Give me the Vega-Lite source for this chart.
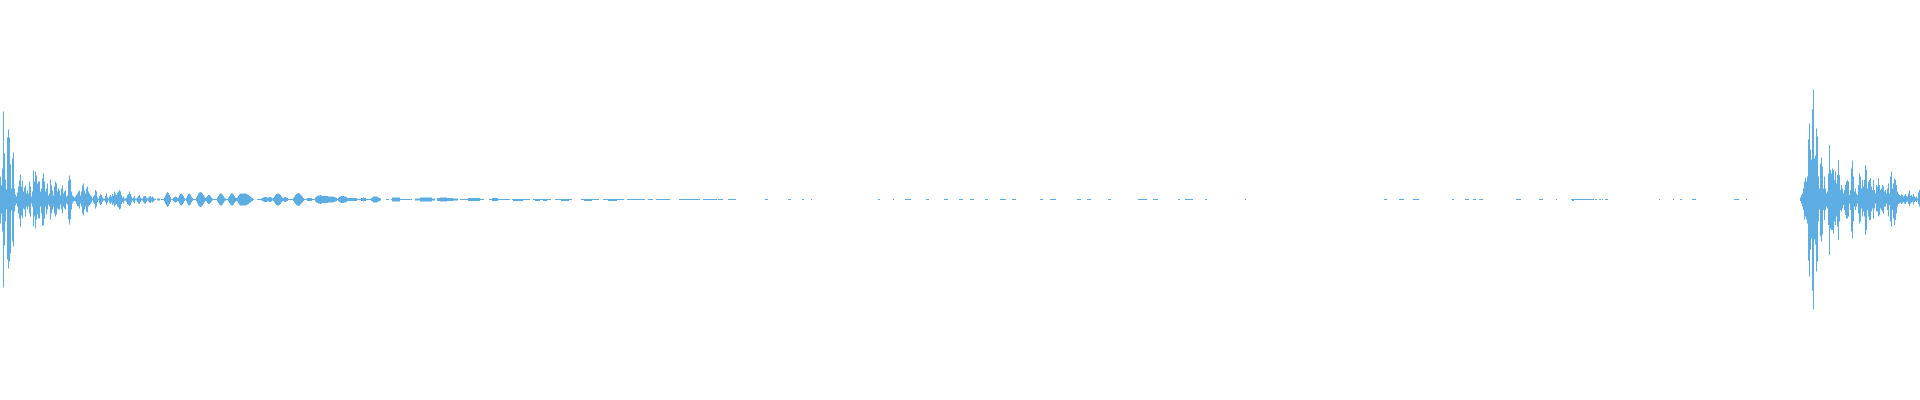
{
"$schema": "https://vega.github.io/schema/vega-lite/v6.json",
"width": 1920, "height": 400,
"autosize": {"type": "fit", "contains": "padding"},
"padding": 0,
"background": "white",
"config": {"view": {"stroke": null}},
"data": {"values": [
{"a":0,"b":1,"l":-24,"h":23},{"a":1,"b":2,"l":-14,"h":14},{"a":2,"b":3,"l":-32,"h":31},{"a":3,"b":4,"l":-88,"h":88},{"a":4,"b":5,"l":-46,"h":46},
{"a":5,"b":6,"l":-22,"h":20},{"a":6,"b":7,"l":-10,"h":10},{"a":7,"b":8,"l":-60,"h":62},{"a":8,"b":9,"l":-69,"h":70},{"a":9,"b":10,"l":-62,"h":62},
{"a":10,"b":11,"l":-54,"h":35},{"a":11,"b":12,"l":-11,"h":11},{"a":12,"b":13,"l":-42,"h":41},{"a":13,"b":14,"l":-47,"h":47},{"a":14,"b":15,"l":-12,"h":11},
{"a":15,"b":16,"l":-6,"h":5},{"a":16,"b":17,"l":-4,"h":3},{"a":17,"b":18,"l":-7,"h":7},{"a":18,"b":19,"l":-14,"h":13},{"a":19,"b":20,"l":-19,"h":19},
{"a":20,"b":21,"l":-27,"h":25},{"a":21,"b":22,"l":-16,"h":13},{"a":22,"b":23,"l":-19,"h":19},{"a":23,"b":24,"l":-9,"h":8},{"a":24,"b":25,"l":-10,"h":12},
{"a":25,"b":26,"l":-17,"h":14},{"a":26,"b":27,"l":-7,"h":6},{"a":27,"b":28,"l":-10,"h":9},{"a":28,"b":29,"l":-7,"h":6},{"a":29,"b":30,"l":-14,"h":18},
{"a":30,"b":31,"l":-17,"h":13},{"a":31,"b":32,"l":-4,"h":3},{"a":32,"b":33,"l":-7,"h":8},{"a":33,"b":34,"l":-27,"h":29},{"a":34,"b":35,"l":-17,"h":18},
{"a":35,"b":36,"l":-29,"h":28},{"a":36,"b":37,"l":-20,"h":24},{"a":37,"b":38,"l":-15,"h":16},{"a":38,"b":39,"l":-19,"h":18},{"a":39,"b":40,"l":-19,"h":18},
{"a":40,"b":41,"l":-7,"h":8},{"a":41,"b":42,"l":-14,"h":11},{"a":42,"b":43,"l":-26,"h":21},{"a":43,"b":44,"l":-26,"h":26},{"a":44,"b":45,"l":-19,"h":18},
{"a":45,"b":46,"l":-7,"h":8},{"a":46,"b":47,"l":-15,"h":11},{"a":47,"b":48,"l":-10,"h":16},{"a":48,"b":49,"l":-5,"h":4},{"a":49,"b":50,"l":-7,"h":6},
{"a":50,"b":51,"l":-20,"h":20},{"a":51,"b":52,"l":-14,"h":14},{"a":52,"b":53,"l":-10,"h":9},{"a":53,"b":54,"l":-7,"h":4},{"a":54,"b":55,"l":-14,"h":13},
{"a":55,"b":56,"l":-17,"h":18},{"a":56,"b":57,"l":-15,"h":16},{"a":57,"b":58,"l":-9,"h":8},{"a":58,"b":59,"l":-10,"h":11},{"a":59,"b":60,"l":-10,"h":9},
{"a":60,"b":61,"l":-5,"h":4},{"a":61,"b":62,"l":-10,"h":11},{"a":62,"b":63,"l":-14,"h":14},{"a":63,"b":64,"l":-7,"h":6},{"a":64,"b":65,"l":-9,"h":8},
{"a":65,"b":66,"l":-10,"h":9},{"a":66,"b":67,"l":-4,"h":3},{"a":67,"b":68,"l":-5,"h":4},{"a":68,"b":69,"l":-20,"h":19},{"a":69,"b":70,"l":-25,"h":24},
{"a":70,"b":71,"l":-20,"h":20},{"a":71,"b":72,"l":-10,"h":8},{"a":72,"b":73,"l":-4,"h":4},{"a":73,"b":74,"l":-2,"h":3},{"a":74,"b":75,"l":-1.5,"h":2},
{"a":75,"b":76,"l":-2,"h":3},{"a":76,"b":77,"l":-4.5,"h":4.5},{"a":77,"b":78,"l":-6.5,"h":6},{"a":78,"b":79,"l":-7,"h":8},{"a":79,"b":80,"l":-9,"h":9},
{"a":80,"b":81,"l":-4,"h":4},{"a":81,"b":82,"l":-7,"h":8},{"a":82,"b":83,"l":-14,"h":14},{"a":83,"b":84,"l":-16,"h":16},{"a":84,"b":85,"l":-10,"h":9},
{"a":85,"b":86,"l":-7,"h":6},{"a":86,"b":87,"l":-12,"h":11},{"a":87,"b":88,"l":-13,"h":13},{"a":88,"b":89,"l":-7,"h":8},{"a":89,"b":90,"l":-5.5,"h":6},
{"a":90,"b":91,"l":-4.5,"h":4.5},{"a":91,"b":92,"l":-3,"h":3},{"a":92,"b":93,"l":-1,"h":1},{"a":93,"b":94,"l":-3,"h":3},{"a":94,"b":95,"l":-4.5,"h":4.5},
{"a":95,"b":96,"l":-9,"h":9.5},{"a":96,"b":97,"l":-7,"h":8},{"a":97,"b":98,"l":-2.5,"h":2},{"a":98,"b":99,"l":-1,"h":1},{"a":99,"b":100,"l":-4,"h":3.5},
{"a":100,"b":101,"l":-5.5,"h":5.5},{"a":101,"b":102,"l":-4.5,"h":4.5},{"a":102,"b":103,"l":-2.5,"h":2},{"a":103,"b":104,"l":-1,"h":1},{"a":104,"b":105,"l":-1,"h":1},
{"a":105,"b":106,"l":-3,"h":3.5},{"a":106,"b":107,"l":-5.5,"h":6},{"a":107,"b":108,"l":-3,"h":2},{"a":108,"b":109,"l":-1,"h":1},{"a":109,"b":110,"l":-3,"h":3},
{"a":110,"b":111,"l":-4.5,"h":4.5},{"a":111,"b":112,"l":-3,"h":3},{"a":112,"b":113,"l":-5.5,"h":5.5},{"a":113,"b":114,"l":-4,"h":3.5},{"a":114,"b":115,"l":-7,"h":8},
{"a":115,"b":116,"l":-5.5,"h":6},{"a":116,"b":117,"l":-4.5,"h":4.5},{"a":117,"b":118,"l":-7,"h":7},{"a":118,"b":119,"l":-8,"h":8},{"a":119,"b":120,"l":-10,"h":9.5},
{"a":120,"b":121,"l":-9,"h":8},{"a":121,"b":122,"l":-4.5,"h":4.5},{"a":122,"b":123,"l":-2.5,"h":2},{"a":123,"b":124,"l":-4,"h":3},{"a":124,"b":125,"l":-1.5,"h":1},
{"a":125,"b":126,"l":-1,"h":1},{"a":126,"b":127,"l":-2.5,"h":2},{"a":127,"b":128,"l":-4.5,"h":4.5},{"a":128,"b":129,"l":-5.5,"h":5.5},{"a":129,"b":130,"l":-6.5,"h":8},
{"a":130,"b":131,"l":-5.5,"h":5.5},{"a":131,"b":132,"l":-3,"h":3},{"a":132,"b":133,"l":-1,"h":1},{"a":133,"b":134,"l":-2.5,"h":2},{"a":134,"b":135,"l":-4,"h":3.5},
{"a":135,"b":136,"l":-1,"h":1},{"a":136,"b":137,"l":-1,"h":1},{"a":137,"b":138,"l":-2.5,"h":2},{"a":138,"b":139,"l":-4,"h":3.5},{"a":139,"b":140,"l":-4.5,"h":4.5},
{"a":140,"b":141,"l":-2.5,"h":2},{"a":141,"b":142,"l":-1,"h":1},{"a":142,"b":143,"l":-1,"h":1},{"a":143,"b":144,"l":-3,"h":3},{"a":144,"b":145,"l":-4,"h":3.5},
{"a":145,"b":146,"l":-4,"h":3.5},{"a":146,"b":147,"l":-2.5,"h":2},{"a":147,"b":148,"l":-1,"h":1},{"a":148,"b":149,"l":-2,"h":2},{"a":149,"b":150,"l":-3,"h":3},
{"a":150,"b":151,"l":-3.5,"h":3.5},{"a":151,"b":152,"l":-2,"h":2},{"a":152,"b":153,"l":-3,"h":3},{"a":153,"b":154,"l":-2,"h":2},{"a":154,"b":155,"l":-1,"h":1},
{"a":155,"b":156,"l":-0.5,"h":0.5},{"a":157,"b":160,"l":-1,"h":1},
{"a":161,"b":164,"l":-0.5,"h":0.5},
{"a":164,"b":165,"l":-2,"h":2},{"a":165,"b":166,"l":-4,"h":4},{"a":166,"b":167,"l":-6,"h":6},{"a":167,"b":168,"l":-7.5,"h":7.5},{"a":168,"b":169,"l":-6.5,"h":6.5},{"a":169,"b":170,"l":-4.5,"h":4.5},{"a":170,"b":171,"l":-2.5,"h":2.5},
{"a":171,"b":173,"l":-0.5,"h":0.5},
{"a":173,"b":174,"l":-1.5,"h":1.5},{"a":174,"b":175,"l":-2.5,"h":2.5},{"a":175,"b":176,"l":-3,"h":3},{"a":176,"b":177,"l":-2.5,"h":2.5},{"a":177,"b":178,"l":-1.5,"h":1.5},
{"a":178,"b":179,"l":-2,"h":2},{"a":179,"b":180,"l":-4,"h":4},{"a":180,"b":181,"l":-5.5,"h":5.5},{"a":181,"b":182,"l":-6,"h":6},{"a":182,"b":183,"l":-5,"h":5},{"a":183,"b":184,"l":-3.5,"h":3.5},{"a":184,"b":185,"l":-1.5,"h":1.5},
{"a":185,"b":186,"l":-0.5,"h":0.5},
{"a":186,"b":187,"l":-2,"h":2},{"a":187,"b":188,"l":-4,"h":4},{"a":188,"b":189,"l":-5.5,"h":5.5},{"a":189,"b":190,"l":-6,"h":6},{"a":190,"b":191,"l":-5,"h":5},{"a":191,"b":192,"l":-3,"h":3},{"a":192,"b":193,"l":-1.5,"h":1.5},
{"a":193,"b":196,"l":-0.5,"h":0.5},
{"a":196,"b":197,"l":-2,"h":2},{"a":197,"b":198,"l":-4,"h":4},{"a":198,"b":199,"l":-6,"h":6},{"a":199,"b":200,"l":-7,"h":7},{"a":200,"b":201,"l":-7.5,"h":7.5},{"a":201,"b":202,"l":-7,"h":7},{"a":202,"b":203,"l":-6,"h":6},{"a":203,"b":204,"l":-4.5,"h":4.5},{"a":204,"b":205,"l":-3,"h":3},{"a":205,"b":206,"l":-1.5,"h":1.5},
{"a":206,"b":207,"l":-2,"h":2},{"a":207,"b":208,"l":-3.5,"h":3.5},{"a":208,"b":209,"l":-4.5,"h":4.5},{"a":209,"b":210,"l":-4.5,"h":4.5},{"a":210,"b":211,"l":-3.5,"h":3.5},{"a":211,"b":212,"l":-2,"h":2},{"a":212,"b":213,"l":-1,"h":1},
{"a":213,"b":217,"l":-0.5,"h":0.5},
{"a":217,"b":218,"l":-2,"h":2},{"a":218,"b":219,"l":-3.5,"h":3.5},{"a":219,"b":220,"l":-5,"h":5},{"a":220,"b":221,"l":-6,"h":6},{"a":221,"b":222,"l":-6,"h":6},{"a":222,"b":223,"l":-5,"h":5},{"a":223,"b":224,"l":-3.5,"h":3.5},{"a":224,"b":225,"l":-2,"h":2},{"a":225,"b":226,"l":-1,"h":1},
{"a":226,"b":228,"l":-0.5,"h":0.5},
{"a":228,"b":229,"l":-2,"h":2},{"a":229,"b":230,"l":-3.5,"h":3.5},{"a":230,"b":231,"l":-5,"h":5},{"a":231,"b":232,"l":-6,"h":6},{"a":232,"b":233,"l":-6,"h":6},{"a":233,"b":234,"l":-5,"h":5},{"a":234,"b":235,"l":-3.5,"h":3.5},{"a":235,"b":236,"l":-2,"h":2},{"a":236,"b":237,"l":-1.5,"h":1.5},
{"a":237,"b":238,"l":-2,"h":2},{"a":238,"b":239,"l":-4,"h":4},{"a":239,"b":240,"l":-5,"h":5},{"a":240,"b":246,"l":-6,"h":6},{"a":246,"b":247,"l":-5.5,"h":5.5},{"a":247,"b":248,"l":-5,"h":5},{"a":248,"b":249,"l":-4.5,"h":4.5},{"a":249,"b":250,"l":-3.5,"h":3.5},{"a":250,"b":251,"l":-3,"h":3},{"a":251,"b":252,"l":-2,"h":2},{"a":252,"b":253,"l":-1.5,"h":1.5},
{"a":253,"b":254,"l":-0.5,"h":0.5},{"a":257,"b":261,"l":-0.5,"h":0.5},
{"a":261,"b":262,"l":-1,"h":1},{"a":262,"b":263,"l":-1.5,"h":1.5},{"a":263,"b":264,"l":-2,"h":2},{"a":264,"b":267,"l":-2.5,"h":2.5},{"a":267,"b":269,"l":-2,"h":2},{"a":269,"b":271,"l":-2.5,"h":2.5},{"a":271,"b":272,"l":-2,"h":2},{"a":272,"b":273,"l":-1,"h":1},
{"a":273,"b":274,"l":-1.5,"h":1.5},{"a":274,"b":275,"l":-3,"h":3},{"a":275,"b":276,"l":-4.5,"h":4.5},{"a":276,"b":277,"l":-5.5,"h":5.5},{"a":277,"b":279,"l":-6,"h":6},{"a":279,"b":280,"l":-5.5,"h":5.5},{"a":280,"b":281,"l":-4.5,"h":4.5},{"a":281,"b":282,"l":-3,"h":3},{"a":282,"b":283,"l":-2,"h":2},
{"a":283,"b":284,"l":-1.5,"h":1.5},{"a":284,"b":286,"l":-2.5,"h":2.5},{"a":286,"b":287,"l":-2,"h":2},{"a":287,"b":288,"l":-1.5,"h":1.5},
{"a":288,"b":293,"l":-0.5,"h":0.5},
{"a":293,"b":294,"l":-1.5,"h":1.5},{"a":294,"b":295,"l":-3,"h":3},{"a":295,"b":296,"l":-4.5,"h":4.5},{"a":296,"b":297,"l":-5.5,"h":5.5},{"a":297,"b":298,"l":-6,"h":6},{"a":298,"b":299,"l":-6.5,"h":6.5},{"a":299,"b":300,"l":-6,"h":6},{"a":300,"b":301,"l":-5,"h":5},{"a":301,"b":302,"l":-4,"h":4},{"a":302,"b":303,"l":-3,"h":3},{"a":303,"b":304,"l":-1.5,"h":1.5},
{"a":304,"b":315,"l":-0.5,"h":0.5},{"a":307,"b":312,"l":-1.5,"h":1.5},
{"a":315,"b":316,"l":-2,"h":2},{"a":316,"b":317,"l":-3,"h":3},{"a":317,"b":318,"l":-3.5,"h":3.5},{"a":318,"b":320,"l":-4,"h":4},{"a":320,"b":321,"l":-4.5,"h":4.5},{"a":321,"b":322,"l":-4,"h":4},{"a":322,"b":328,"l":-3.5,"h":3.5},{"a":328,"b":333,"l":-3,"h":3},{"a":333,"b":335,"l":-2.5,"h":2.5},{"a":335,"b":336,"l":-2,"h":2},{"a":336,"b":337,"l":-1.5,"h":1.5},
{"a":337,"b":338,"l":-0.5,"h":0.5},
{"a":338,"b":339,"l":-1.5,"h":1.5},{"a":339,"b":340,"l":-2.5,"h":2.5},{"a":340,"b":341,"l":-3,"h":3},{"a":341,"b":344,"l":-3.5,"h":3.5},{"a":344,"b":346,"l":-3,"h":3},{"a":346,"b":347,"l":-2.5,"h":2.5},
{"a":347,"b":357,"l":-1.5,"h":1.5},{"a":357,"b":361,"l":-0.5,"h":0.5},{"a":361,"b":366,"l":-1.5,"h":1.5},{"a":363,"b":364,"l":-2,"h":2},{"a":366,"b":371,"l":-0.5,"h":0.5},
{"a":371,"b":372,"l":-1.5,"h":1.5},{"a":372,"b":373,"l":-2,"h":2},{"a":373,"b":377,"l":-3,"h":3},{"a":377,"b":378,"l":-2.5,"h":2.5},{"a":378,"b":379,"l":-2,"h":2},{"a":379,"b":380,"l":-1.5,"h":1.5},{"a":380,"b":381,"l":-1,"h":1},
{"a":386,"b":389,"l":-0.5,"h":0.5},{"a":391,"b":412,"l":-0.5,"h":0.5},{"a":392,"b":400,"l":-2,"h":2},
{"a":415,"b":420,"l":-1,"h":1},{"a":420,"b":432,"l":-2,"h":2},{"a":432,"b":435,"l":-1,"h":1},
{"a":437,"b":440,"l":-1.5,"h":1.5},{"a":440,"b":447,"l":-2,"h":2},{"a":447,"b":453,"l":-1.5,"h":1.5},{"a":453,"b":458,"l":-1,"h":1},
{"a":460,"b":468,"l":-0.5,"h":0.5},{"a":468,"b":480,"l":-1.5,"h":1.5},{"a":480,"b":484,"l":-0.5,"h":0.5},
{"a":489,"b":510,"l":-0.5,"h":0.5},{"a":492,"b":498,"l":-1.5,"h":1.5},
{"a":512,"b":530,"l":-0.5,"h":0.5},{"a":513,"b":523,"l":-1.5,"h":0.5},
{"a":533,"b":551,"l":-0.5,"h":0.5},{"a":535,"b":540,"l":-1.5,"h":0.5},{"a":543,"b":547,"l":-1.5,"h":0.5},
{"a":555,"b":572,"l":-0.5,"h":0.5},{"a":561,"b":569,"l":-1.5,"h":0.5},
{"a":581,"b":599,"l":-0.5,"h":0.5},{"a":584,"b":592,"l":-1.5,"h":0.5},
{"a":603,"b":624,"l":-0.5,"h":0.5},{"a":608,"b":617,"l":-1.5,"h":0.5},
{"a":627,"b":645,"l":-0.5,"h":0.5},{"a":648,"b":653,"l":-0.5,"h":0.5},{"a":656,"b":670,"l":-0.5,"h":0.5},{"a":679,"b":700,"l":-0.5,"h":0.5},
{"a":703,"b":717,"l":-0.5,"h":0.5},{"a":718,"b":723,"l":-0.5,"h":0.5},{"a":728,"b":736,"l":-0.5,"h":0.5},{"a":765,"b":768,"l":-0.5,"h":0.5},{"a":788,"b":791,"l":-0.5,"h":0.5},
{"a":802,"b":804,"l":-0.5,"h":0.5},{"a":811,"b":812,"l":-0.5,"h":0.5},{"a":878,"b":880,"l":-0.5,"h":0.5},{"a":893,"b":894,"l":-0.5,"h":0.5},{"a":905,"b":911,"l":-0.5,"h":0.5},
{"a":926,"b":929,"l":-0.5,"h":0.5},{"a":944,"b":948,"l":-0.5,"h":0.5},{"a":959,"b":963,"l":-0.5,"h":0.5},{"a":970,"b":974,"l":-0.5,"h":0.5},{"a":985,"b":988,"l":-0.5,"h":0.5},
{"a":1000,"b":1006,"l":-0.5,"h":0.5},{"a":1012,"b":1016,"l":-0.5,"h":0.5},{"a":1040,"b":1043,"l":-0.5,"h":0.5},{"a":1050,"b":1056,"l":-0.5,"h":0.5},{"a":1077,"b":1081,"l":-0.5,"h":0.5},
{"a":1087,"b":1091,"l":-0.5,"h":0.5},{"a":1108,"b":1111,"l":-0.5,"h":0.5},{"a":1138,"b":1147,"l":-0.5,"h":0.5},{"a":1153,"b":1158,"l":-0.5,"h":0.5},{"a":1178,"b":1180,"l":-0.5,"h":0.5},
{"a":1185,"b":1193,"l":-0.5,"h":0.5},{"a":1205,"b":1207,"l":-0.5,"h":0.5},{"a":1245,"b":1246,"l":-0.5,"h":0.5},
{"a":1384,"b":1387,"l":-0.5,"h":0.5},{"a":1399,"b":1404,"l":-0.5,"h":0.5},{"a":1413,"b":1419,"l":-0.5,"h":0.5},{"a":1452,"b":1454,"l":-0.5,"h":0.5},{"a":1465,"b":1469,"l":-0.5,"h":0.5},
{"a":1473,"b":1476,"l":-0.5,"h":0.5},{"a":1479,"b":1483,"l":-0.5,"h":0.5},{"a":1516,"b":1521,"l":-0.5,"h":0.5},{"a":1539,"b":1543,"l":-0.5,"h":0.5},{"a":1556,"b":1557,"l":-0.5,"h":0.5},
{"a":1571,"b":1594,"l":-0.5,"h":0.5},{"a":1572,"b":1574,"l":-1.5,"h":0.5},{"a":1595,"b":1597,"l":-0.5,"h":0.5},{"a":1599,"b":1601,"l":-0.5,"h":0.5},{"a":1602,"b":1603,"l":-0.5,"h":0.5},
{"a":1605,"b":1608,"l":-0.5,"h":0.5},{"a":1659,"b":1660,"l":-0.5,"h":0.5},{"a":1673,"b":1674,"l":-0.5,"h":0.5},{"a":1680,"b":1682,"l":-0.5,"h":0.5},{"a":1692,"b":1696,"l":-0.5,"h":0.5},
{"a":1734,"b":1739,"l":-0.5,"h":0.5},{"a":1746,"b":1747,"l":-0.5,"h":0.5},
{"a":1800,"b":1801,"l":-1.5,"h":2},{"a":1801,"b":1802,"l":-4,"h":4.5},{"a":1802,"b":1803,"l":-7,"h":6},{"a":1803,"b":1804,"l":-10.5,"h":11},{"a":1804,"b":1805,"l":-20,"h":18},
{"a":1805,"b":1806,"l":-17,"h":22},{"a":1806,"b":1807,"l":-20,"h":18},{"a":1807,"b":1808,"l":-24,"h":23},{"a":1808,"b":1809,"l":-61,"h":60},{"a":1809,"b":1810,"l":-77,"h":76},
{"a":1810,"b":1811,"l":-50,"h":50},{"a":1811,"b":1812,"l":-39,"h":40},{"a":1812,"b":1813,"l":-91,"h":90},{"a":1813,"b":1814,"l":-110,"h":110},{"a":1814,"b":1815,"l":-40,"h":41},
{"a":1815,"b":1816,"l":-45,"h":44},{"a":1816,"b":1817,"l":-72,"h":71},{"a":1817,"b":1818,"l":-62,"h":63},{"a":1818,"b":1819,"l":-22,"h":23},{"a":1819,"b":1820,"l":-10,"h":11},
{"a":1820,"b":1821,"l":-37,"h":36},{"a":1821,"b":1822,"l":-42,"h":42},{"a":1822,"b":1823,"l":-35,"h":33},{"a":1823,"b":1824,"l":-10.5,"h":11},{"a":1824,"b":1825,"l":-20.5,"h":23},
{"a":1825,"b":1826,"l":-10.5,"h":11},{"a":1826,"b":1827,"l":-7,"h":6},{"a":1827,"b":1828,"l":-9,"h":8},{"a":1828,"b":1829,"l":-25.5,"h":26},{"a":1829,"b":1830,"l":-55.5,"h":54.5},
{"a":1830,"b":1831,"l":-29,"h":29.5},{"a":1831,"b":1832,"l":-30.5,"h":26},{"a":1832,"b":1833,"l":-30.5,"h":31},{"a":1833,"b":1834,"l":-34,"h":29.5},{"a":1834,"b":1835,"l":-22,"h":19.5},
{"a":1835,"b":1836,"l":-25.5,"h":28},{"a":1836,"b":1837,"l":-17,"h":16},{"a":1837,"b":1838,"l":-27,"h":24.5},{"a":1838,"b":1839,"l":-40.5,"h":39.5},{"a":1839,"b":1840,"l":-22,"h":24.5},
{"a":1840,"b":1841,"l":-10.5,"h":9.5},{"a":1841,"b":1842,"l":-12,"h":14.5},{"a":1842,"b":1843,"l":-9,"h":11},{"a":1843,"b":1844,"l":-5.5,"h":6},{"a":1844,"b":1845,"l":-10.5,"h":9.5},
{"a":1845,"b":1846,"l":-15.5,"h":14.5},{"a":1846,"b":1847,"l":-19,"h":18},{"a":1847,"b":1848,"l":-19,"h":19.5},{"a":1848,"b":1849,"l":-17,"h":18},{"a":1849,"b":1850,"l":-4,"h":4.5},
{"a":1850,"b":1851,"l":-10.5,"h":9.5},{"a":1851,"b":1852,"l":-32,"h":31},{"a":1852,"b":1853,"l":-39,"h":39},{"a":1853,"b":1854,"l":-22,"h":23},{"a":1854,"b":1855,"l":-7,"h":8},
{"a":1855,"b":1856,"l":-10.5,"h":11},{"a":1856,"b":1857,"l":-7,"h":6},{"a":1857,"b":1858,"l":-4,"h":4.5},{"a":1858,"b":1859,"l":-14,"h":14.5},{"a":1859,"b":1860,"l":-24,"h":26},
{"a":1860,"b":1861,"l":-22,"h":23},{"a":1861,"b":1862,"l":-9,"h":11},{"a":1862,"b":1863,"l":-17,"h":19.5},{"a":1863,"b":1864,"l":-12,"h":13},{"a":1864,"b":1865,"l":-17,"h":19.5},
{"a":1865,"b":1866,"l":-35.5,"h":34.5},{"a":1866,"b":1867,"l":-30.5,"h":29.5},{"a":1867,"b":1868,"l":-10.5,"h":11},{"a":1868,"b":1869,"l":-17,"h":18},{"a":1869,"b":1870,"l":-20.5,"h":19.5},
{"a":1870,"b":1871,"l":-20.5,"h":21},{"a":1871,"b":1872,"l":-12,"h":13},{"a":1872,"b":1873,"l":-9,"h":9.5},{"a":1873,"b":1874,"l":-19,"h":19.5},{"a":1874,"b":1875,"l":-9,"h":9.5},
{"a":1875,"b":1876,"l":-4,"h":6},{"a":1876,"b":1877,"l":-12,"h":14.5},{"a":1877,"b":1878,"l":-12,"h":13},{"a":1878,"b":1879,"l":-17,"h":21},{"a":1879,"b":1880,"l":-15.5,"h":14.5},
{"a":1880,"b":1881,"l":-9,"h":9.5},{"a":1881,"b":1882,"l":-10.5,"h":11},{"a":1882,"b":1883,"l":-12,"h":14.5},{"a":1883,"b":1884,"l":-14,"h":13},{"a":1884,"b":1885,"l":-7,"h":8},
{"a":1885,"b":1886,"l":-7,"h":9.5},{"a":1886,"b":1887,"l":-4,"h":6},{"a":1887,"b":1888,"l":-10.5,"h":11},{"a":1888,"b":1889,"l":-17,"h":16},{"a":1889,"b":1890,"l":-5.5,"h":6},
{"a":1890,"b":1891,"l":-22,"h":23},{"a":1891,"b":1892,"l":-27,"h":28},{"a":1892,"b":1893,"l":-10.5,"h":11},{"a":1893,"b":1894,"l":-19,"h":16},{"a":1894,"b":1895,"l":-25.5,"h":21},
{"a":1895,"b":1896,"l":-20.5,"h":19.5},{"a":1896,"b":1897,"l":-14,"h":14.5},{"a":1897,"b":1898,"l":-7,"h":8},{"a":1898,"b":1899,"l":-4.5,"h":5.5},{"a":1899,"b":1900,"l":-4,"h":4.5},
{"a":1900,"b":1901,"l":-3,"h":3.5},{"a":1901,"b":1902,"l":-4.5,"h":5},{"a":1902,"b":1903,"l":-4,"h":4.5},{"a":1903,"b":1904,"l":-2.5,"h":3},{"a":1904,"b":1905,"l":-4,"h":4},
{"a":1905,"b":1906,"l":-4.5,"h":5.5},{"a":1906,"b":1907,"l":-2.5,"h":3.5},{"a":1907,"b":1908,"l":-2,"h":3},{"a":1908,"b":1909,"l":-4.5,"h":6},{"a":1909,"b":1910,"l":-6.5,"h":9},
{"a":1910,"b":1911,"l":-4,"h":3.5},{"a":1911,"b":1912,"l":-3,"h":4.5},{"a":1912,"b":1913,"l":-2,"h":3},{"a":1913,"b":1914,"l":-5,"h":5.5},{"a":1914,"b":1915,"l":-2.5,"h":3},
{"a":1915,"b":1916,"l":-1.5,"h":2},{"a":1916,"b":1917,"l":-2.5,"h":3},{"a":1917,"b":1918,"l":-1,"h":1},{"a":1918,"b":1919,"l":-4.5,"h":7},{"a":1919,"b":1920,"l":-7,"h":9.5}
]},
"mark": {"type": "rect", "color": "#5DADE2"},
"encoding": {
  "x": {"field": "a", "type": "quantitative", "scale": {"domain": [0, 1920], "nice": false, "zero": false}, "axis": null},
  "x2": {"field": "b"},
  "y": {"field": "l", "type": "quantitative", "scale": {"domain": [-200.5, 199.5], "nice": false, "zero": false}, "axis": null},
  "y2": {"field": "h"}
}
}
